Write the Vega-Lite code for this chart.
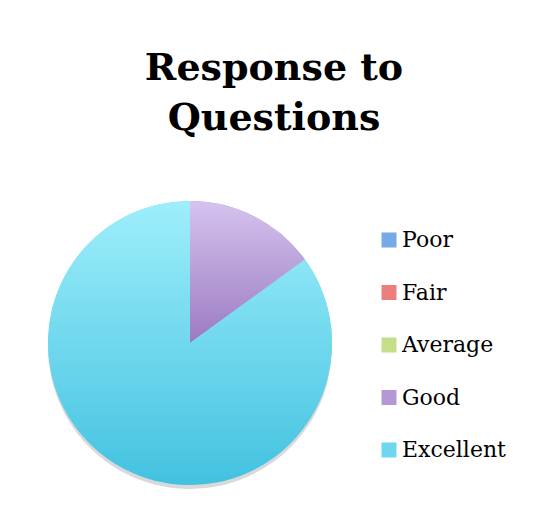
{
  "$schema": "https://vega.github.io/schema/vega-lite/v6.json",
  "width": 284,
  "height": 284,
  "autosize": "none",
  "padding": {"left": 48, "top": 201, "right": 203, "bottom": 44},
  "background": "white",
  "config": {"view": {"stroke": null}},
  "title": {
    "text": ["Response to", "Questions"],
    "font": "DejaVu Serif",
    "fontSize": 38,
    "fontWeight": "bold",
    "color": "black",
    "anchor": "middle",
    "frame": "group",
    "dx": 84,
    "lineHeight": 50,
    "offset": 63
  },
  "data": {
    "values": [
      {"response": "Poor", "count": 0},
      {"response": "Fair", "count": 0},
      {"response": "Average", "count": 0},
      {"response": "Good", "count": 15},
      {"response": "Excellent", "count": 85}
    ]
  },
  "layer": [
    {
      "mark": {"type": "arc", "yOffset": 4, "color": "#000000", "opacity": 0.15, "stroke": null},
      "encoding": {
        "theta": {"field": "count", "type": "quantitative", "stack": true},
        "order": {"field": "response", "type": "ordinal", "sort": "descending"}
      }
    },
    {
      "mark": {"type": "arc", "stroke": null},
      "encoding": {
        "theta": {"field": "count", "type": "quantitative", "stack": true},
        "order": {"field": "response", "type": "ordinal", "sort": "descending"},
        "color": {
          "field": "response",
          "type": "nominal",
          "scale": {
            "domain": ["Poor", "Fair", "Average", "Good", "Excellent"],
            "range": ["#78a9e7", "#eb7f7e", "#c4df88", "#b498d6", "#6ed6ee"]
          },
          "legend": {
            "orient": "none",
            "legendX": 330,
            "legendY": 28,
            "title": null,
            "symbolType": "square",
            "symbolSize": 225,
            "symbolStrokeWidth": 0,
            "labelFont": "DejaVu Serif",
            "labelFontSize": 22,
            "labelColor": "black",
            "labelOffset": 2,
            "rowPadding": 30.5,
            "padding": 0
          }
        }
      }
    },
    {
      "mark": {"type": "arc", "stroke": null},
      "encoding": {
        "theta": {"field": "count", "type": "quantitative", "stack": true},
        "order": {"field": "response", "type": "ordinal", "sort": "descending"},
        "fill": {
          "condition": [
            {"test": "datum.response === 'Poor'", "value": {"gradient": "linear", "x1": 0, "y1": 0, "x2": 0, "y2": 1, "stops": [{"offset": 0, "color": "#a8ccf6"}, {"offset": 1, "color": "#4f8ed6"}]}},
            {"test": "datum.response === 'Fair'", "value": {"gradient": "linear", "x1": 0, "y1": 0, "x2": 0, "y2": 1, "stops": [{"offset": 0, "color": "#f6a8a8"}, {"offset": 1, "color": "#dc5c5a"}]}},
            {"test": "datum.response === 'Average'", "value": {"gradient": "linear", "x1": 0, "y1": 0, "x2": 0, "y2": 1, "stops": [{"offset": 0, "color": "#dcefb0"}, {"offset": 1, "color": "#aed15e"}]}},
            {"test": "datum.response === 'Good'", "value": {"gradient": "linear", "x1": 0, "y1": 0, "x2": 0, "y2": 1, "stops": [{"offset": 0, "color": "#d5c3ef"}, {"offset": 1, "color": "#9b7bc1"}]}}
          ],
          "value": {"gradient": "linear", "x1": 0, "y1": 0, "x2": 0, "y2": 1, "stops": [{"offset": 0, "color": "#9feefb"}, {"offset": 1, "color": "#42c2e0"}]}
        }
      }
    }
  ]
}
